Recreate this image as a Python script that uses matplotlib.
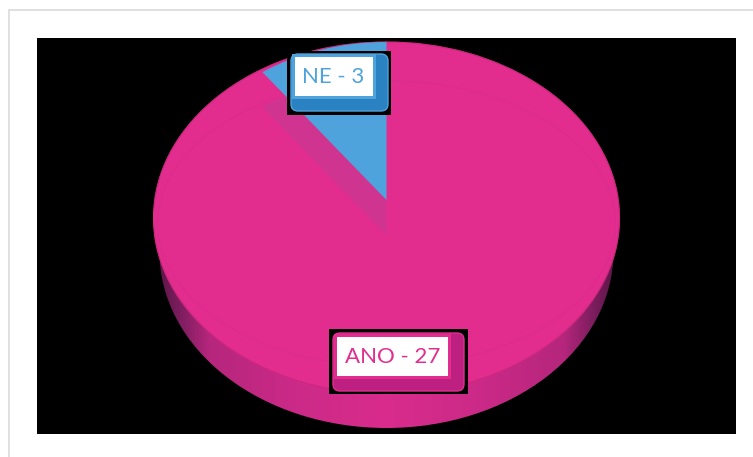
import numpy as np
import matplotlib
matplotlib.use("Agg")
import matplotlib.pyplot as plt
from matplotlib.patches import Ellipse, Rectangle, FancyBboxPatch
from matplotlib.colors import LinearSegmentedColormap

categories = ["NE", "ANO"]
values = [3, 27]
PINK = "#e22d8f"
BLUE = "#4ea3dc"
W, H = 753, 457

plt.rcParams["font.family"] = ["Lato", "DejaVu Sans"]
fig = plt.figure(figsize=(W / 100, H / 100), dpi=100, facecolor="white")


def px_axes(left, right, top, bottom, z):
    ax = fig.add_axes([left / W, 1 - bottom / H, (right - left) / W, (bottom - top) / H], zorder=z)
    ax.axis("off")
    return ax


def ell_axes(cx, cy, rx, ry, z):
    return px_axes(cx - rx, cx + rx, cy - ry, cy + ry, z)


def draw_pie(ax, colors, **kw):
    wedges, _ = ax.pie(values, colors=colors, startangle=90, counterclock=True, radius=1, center=(0, 0), **kw)
    ax.set_aspect("auto")
    ax.set_xlim(-1, 1)
    ax.set_ylim(-1, 1)
    return wedges


# background, frame, extruded side
bg = px_axes(0, W, 0, H, 0)
bg.set_xlim(0, W)
bg.set_ylim(H, 0)
bg.add_patch(Rectangle((9, 10), W, H, fc="white", ec="#e0e0e0", lw=1.4))
bg.add_patch(Rectangle((37, 38), 699, 396, fc="black", ec="none"))
CX, CY, RX, RY = 386.5, 218, 233, 176
side_cm = LinearSegmentedColormap.from_list("side", [
    (0.0, "#5e1648"), (0.05, "#7f1e60"), (0.11, "#b5267c"), (0.30, "#cc2a88"),
    (0.5, "#d92c8c"), (0.70, "#cc2a88"), (0.89, "#b5267c"), (0.95, "#7f1e60"), (1.0, "#5e1648")])
im = bg.imshow(np.linspace(0, 1, 512)[None, :], cmap=side_cm, aspect="auto",
               extent=(158, 615, 430, 215), zorder=1)
clip_side = Ellipse((CX, 252), 2 * 227, 2 * 176, transform=bg.transData)
im.set_clip_path(clip_side)
bg.set_xlim(0, W)
bg.set_ylim(H, 0)

# top face
ax_main = ell_axes(CX, CY, RX, RY, 1)
draw_pie(ax_main, [PINK, PINK], wedgeprops=dict(linewidth=0.8, edgecolor=PINK))
ax_main.add_patch(Ellipse((0, 0), 2, 2, fc="none", ec="#b8246f", lw=0.8, alpha=0.55))
ax_main.add_patch(Ellipse((0, -0.03), 1.965, 1.62, fc="none", ec="#c42a85", lw=0.8, alpha=0.22))

clip_face = Ellipse((CX, CY), 2 * RX, 2 * RY, transform=bg.transData)

# wall under the NE slice
ax_shadow = ell_axes(CX, 235, 211, 158, 2)
w = draw_pie(ax_shadow, ["#cf3590", "none"], wedgeprops=dict(linewidth=0))
w[1].set_visible(False)
w[0].set_clip_path(clip_face)

# NE slice
ax_blue = ell_axes(CX, 200, 211, 158, 3)
w = draw_pie(ax_blue, [BLUE, "none"], wedgeprops=dict(linewidth=0))
w[1].set_visible(False)
w[0].set_clip_path(clip_face)

# labels
lab = px_axes(0, W, 0, H, 4)
lab.set_xlim(0, W)
lab.set_ylim(H, 0)


def label(text, black, outer, inner, col, dark, tx):
    x0, x1, y0, y1 = black
    lab.add_patch(Rectangle((x0, y0), x1 - x0, y1 - y0, fc="black", ec="none"))
    x0, x1, y0, y1 = outer
    lab.add_patch(FancyBboxPatch((x0 + 6, y0 + 6), x1 - x0 - 12, y1 - y0 - 12,
                                 boxstyle="round,pad=6,rounding_size=7", fc=dark, ec=col, lw=1))
    x0, x1, y0, y1 = inner
    lab.add_patch(Rectangle((x0 - 3, y0 - 3), x1 - x0 + 6, y1 - y0 + 6, fc=col, ec="none"))
    lab.add_patch(Rectangle((x0, y0), x1 - x0, y1 - y0, fc="white", ec="none"))
    lab.text(tx, (y0 + y1) / 2 + 0.5, text, color=col, fontsize=16, ha="center", va="center")


label(f"{categories[0]} - {values[0]}", (287, 391, 51, 115), (291, 388, 54, 111), (295, 373, 57, 96),
      BLUE, "#2b82c3", 333)
label(f"{categories[1]} - {values[1]}", (329, 468, 329, 394), (333, 464, 333, 391), (337, 448, 337, 376),
      PINK, "#bd2080", 392.5)

fig.savefig("out.png", dpi=100, facecolor="white")
